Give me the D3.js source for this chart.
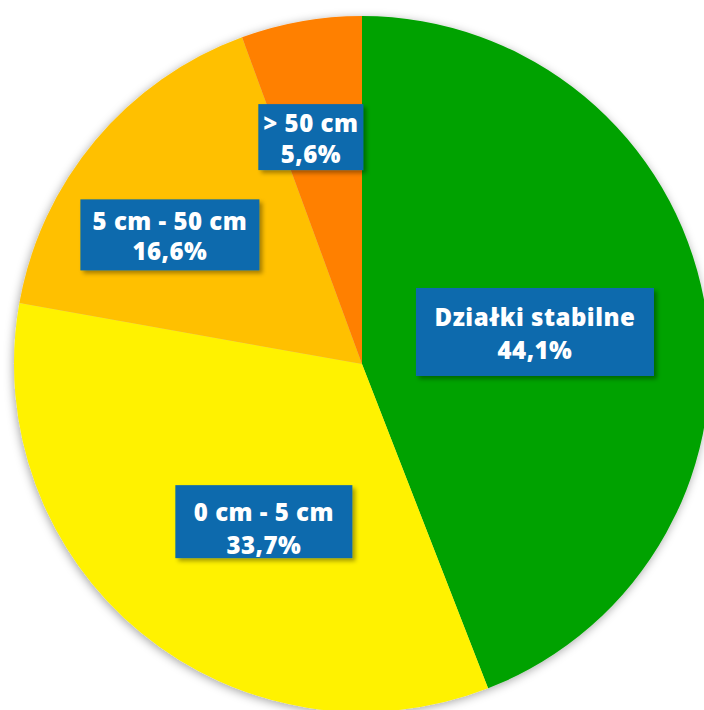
<!DOCTYPE html>
<html>
<head>
<meta charset="utf-8">
<script src="https://cdn.jsdelivr.net/npm/d3@7"></script>
<style>
  html, body { margin: 0; padding: 0; background: #fff; }
  svg { display: block; }
  .lbl { font-family: "Open Sans", Lato, sans-serif; font-weight: 800; fill: #fff; letter-spacing: 0.5px; }
</style>
</head>
<body>
<div id="chart"></div>
<script>
// data
let categories = ["Działki stabilne", "0 cm - 5 cm", "5 cm - 50 cm", "> 50 cm"];
let values = [44.1, 33.7, 16.6, 5.6];
let valueLabels = ["44,1%", "33,7%", "16,6%", "5,6%"];
let colors = ["#00a200", "#fff200", "#ffc000", "#ff8000"];

// layout
let svgWidth = 704;
let svgHeight = 710;
let cx = 362, cy = 364, radius = 348;
// label box centres (relative to radius) and box sizes
let labelAt = [[0.497, -0.092], [-0.282, 0.453], [-0.552, -0.371], [-0.147, -0.652]];
let boxSize = [[238, 88], [177, 73], [179, 71], [105, 66]];
let lineY = [[-14, 19], [-9, 24], [-13, 17], [-14, 18]];

let svg = d3.select("#chart")
  .append("svg")
  .attr("width", svgWidth)
  .attr("height", svgHeight);

let defs = svg.append("defs");
defs.append("filter").attr("id", "pieShadow")
  .attr("x", "-10%").attr("y", "-10%").attr("width", "120%").attr("height", "120%")
  .append("feDropShadow")
  .attr("dx", -1).attr("dy", 2).attr("stdDeviation", 5)
  .attr("flood-color", "#000").attr("flood-opacity", 0.35);
defs.append("filter").attr("id", "boxShadow")
  .attr("x", "-20%").attr("y", "-30%").attr("width", "140%").attr("height", "160%")
  .append("feDropShadow")
  .attr("dx", 3).attr("dy", 3).attr("stdDeviation", 2)
  .attr("flood-color", "#000").attr("flood-opacity", 0.35);

let chart = svg.append("g")
  .attr("transform", "translate(" + cx + "," + cy + ")");

let pie = d3.pie().sort(null).value(d => d);
let arc = d3.arc().innerRadius(0).outerRadius(radius);
let arcs = pie(values);

chart.append("g")
  .attr("filter", "url(#pieShadow)")
  .selectAll("path")
  .data(arcs)
  .enter()
  .append("path")
  .attr("d", arc)
  .attr("fill", (d, i) => colors[i]);

let labels = chart.append("g").selectAll("g")
  .data(arcs)
  .enter()
  .append("g")
  .attr("transform", (d, i) => "translate(" + (labelAt[i][0] * radius) + "," + (labelAt[i][1] * radius) + ")");

labels.append("rect")
  .attr("x", (d, i) => -boxSize[i][0] / 2)
  .attr("y", (d, i) => -boxSize[i][1] / 2)
  .attr("width", (d, i) => boxSize[i][0])
  .attr("height", (d, i) => boxSize[i][1])
  .attr("fill", "#0a6aad")
  .attr("filter", "url(#boxShadow)");

labels.append("text")
  .attr("class", "lbl")
  .attr("text-anchor", "middle")
  .attr("dy", "0.35em")
  .attr("y", (d, i) => lineY[i][0])
  .attr("font-size", 24)
  .text((d, i) => categories[i]);

labels.append("text")
  .attr("class", "lbl")
  .attr("text-anchor", "middle")
  .attr("dy", "0.35em")
  .attr("y", (d, i) => lineY[i][1])
  .attr("font-size", 24)
  .text((d, i) => valueLabels[i]);
</script>
</body>
</html>
